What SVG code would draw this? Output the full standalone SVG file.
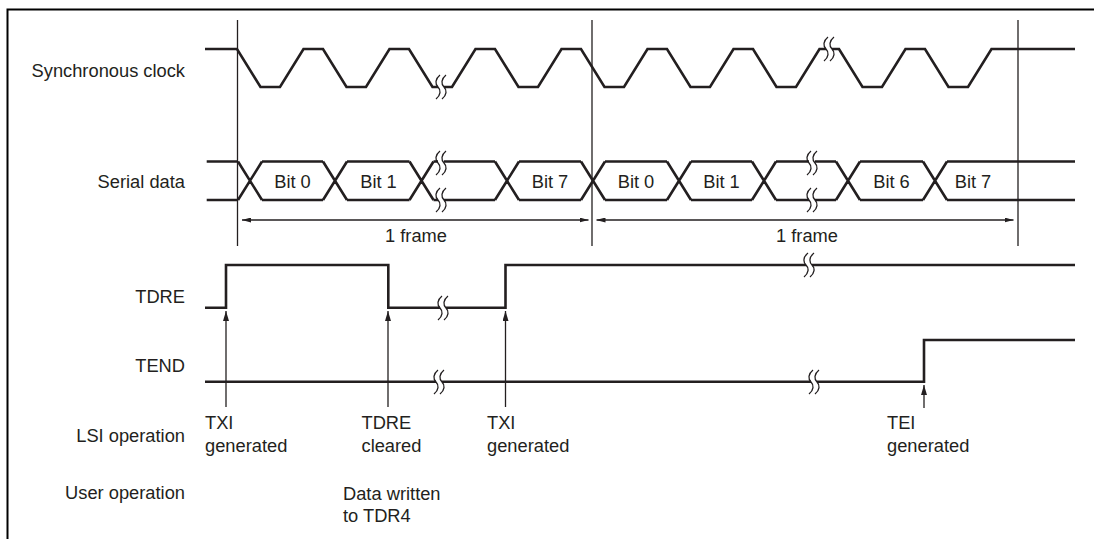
<svg xmlns="http://www.w3.org/2000/svg" width="1094" height="539" viewBox="0 0 1094 539">
<style>
.sig{fill:none;stroke:#231f20;stroke-width:2.6;stroke-linejoin:miter}
.thin{fill:none;stroke:#231f20;stroke-width:1.3}
.lbl{font-family:"Liberation Sans",Arial,sans-serif;font-size:18.3px;fill:#231f20}
.r{text-anchor:end}
.m{text-anchor:middle}
.brk{fill:none;stroke:#231f20;stroke-width:1.3}
</style>
<defs>
<marker id="ah" viewBox="0 0 10 6" refX="10" refY="3" markerWidth="10" markerHeight="6" markerUnits="userSpaceOnUse" orient="auto">
<path d="M0,0 L10,3 L0,6 z" fill="#231f20"/>
</marker>
<marker id="dh" viewBox="0 0 9 5" refX="9" refY="2.5" markerWidth="9" markerHeight="5" markerUnits="userSpaceOnUse" orient="auto-start-reverse">
<path d="M0,0 L9,2.5 L0,5 z" fill="#231f20"/>
</marker>
<g id="brkmark">
<rect x="-3" y="-3" width="6" height="6" fill="#fff"/>
<path class="brk" d="M-1,-12 C-6,-8 -6,-3 -3,0 C0,3 0,8 -5,12"/>
<path class="brk" d="M5,-12 C0,-8 0,-3 3,0 C6,3 6,8 1,12"/>
</g>
</defs>
<rect width="1094" height="539" fill="#fff"/>
<path d="M7.5,539 V9.5 H1094" fill="none" stroke="#000" stroke-width="2"/>

<g id="labels">
<text class="lbl r" x="185" y="77">Synchronous clock</text>
<text class="lbl r" x="185" y="188">Serial data</text>
<text class="lbl r" x="185" y="303">TDRE</text>
<text class="lbl r" x="185" y="372">TEND</text>
<text class="lbl r" x="185" y="442">LSI operation</text>
<text class="lbl r" x="185" y="499">User operation</text>
</g>

<g id="frame-markers">
<line class="thin" x1="237.5" y1="20" x2="237.5" y2="246"/>
<line class="thin" x1="592" y1="20" x2="592" y2="246"/>
<line class="thin" x1="1018" y1="20" x2="1018" y2="246"/>
</g>

<g id="clock">
<polyline class="sig" points="205,49 237,49 260.5,87 280,87 303.5,49 323,49 346.5,87 366,87 389.5,49 409,49 432.5,87 452,87 475.5,49 495,49 518.5,87 538,87 561.5,49 581,49 604.5,87 624,87 647.5,49 667,49 690.5,87 710,87 733.5,49 753,49 776.5,87 796,87 819.5,49 839,49 862.5,87 882,87 905.5,49 925,49 948.5,87 968,87 991.5,49 1075,49"/>
<use href="#brkmark" x="441" y="87"/>
<use href="#brkmark" x="829" y="49"/>
</g>

<g id="serial-data">
<path class="sig" d="M206.7,161.5 H238 M262,161.5 H323 M347,161.5 H409.5 M433.5,161.5 H495 M519,161.5 H581 M605,161.5 H667 M691,161.5 H752 M776,161.5 H836 M860,161.5 H923 M947,161.5 H1075"/>
<path class="sig" d="M206.7,200 H238 M262,200 H323 M347,200 H409.5 M433.5,200 H495 M519,200 H581 M605,200 H667 M691,200 H752 M776,200 H836 M860,200 H923 M947,200 H1075"/>
<path class="sig" d="M238,161.5 L262,200 M238,200 L262,161.5 M323,161.5 L347,200 M323,200 L347,161.5 M409.5,161.5 L433.5,200 M409.5,200 L433.5,161.5 M495,161.5 L519,200 M495,200 L519,161.5 M581,161.5 L605,200 M581,200 L605,161.5 M667,161.5 L691,200 M667,200 L691,161.5 M752,161.5 L776,200 M752,200 L776,161.5 M836,161.5 L860,200 M836,200 L860,161.5 M923,161.5 L947,200 M923,200 L947,161.5"/>
<use href="#brkmark" x="441" y="163"/>
<use href="#brkmark" x="441" y="200"/>
<use href="#brkmark" x="812" y="163"/>
<use href="#brkmark" x="812" y="200"/>
<text class="lbl m" x="292.5" y="188">Bit 0</text>
<text class="lbl m" x="378.5" y="188">Bit 1</text>
<text class="lbl m" x="550" y="188">Bit 7</text>
<text class="lbl m" x="636" y="188">Bit 0</text>
<text class="lbl m" x="721.5" y="188">Bit 1</text>
<text class="lbl m" x="891.5" y="188">Bit 6</text>
<text class="lbl m" x="973" y="188">Bit 7</text>
</g>

<g id="frame-dims">
<line class="thin" x1="242" y1="220" x2="588.5" y2="220" marker-start="url(#dh)" marker-end="url(#dh)"/>
<line class="thin" x1="596.5" y1="220" x2="1013.5" y2="220" marker-start="url(#dh)" marker-end="url(#dh)"/>
<text class="lbl m" x="416" y="242">1 frame</text>
<text class="lbl m" x="807" y="242">1 frame</text>
</g>

<g id="tdre">
<path class="sig" d="M205,307.7 H226 V265 H388.3 V307.7 H505.5 V265 H1075"/>
<use href="#brkmark" x="443" y="308"/>
<use href="#brkmark" x="809" y="265"/>
</g>

<g id="tend">
<path class="sig" d="M205,381.7 H924 V340 H1075"/>
<use href="#brkmark" x="439" y="382"/>
<use href="#brkmark" x="814" y="382"/>
</g>

<g id="connectors">
<line class="thin" x1="226" y1="407" x2="226" y2="311" marker-end="url(#ah)"/>
<line class="thin" x1="388" y1="407" x2="388" y2="311" marker-end="url(#ah)"/>
<line class="thin" x1="505.5" y1="407" x2="505.5" y2="311" marker-end="url(#ah)"/>
<line class="thin" x1="924" y1="408" x2="924" y2="385" marker-end="url(#ah)"/>
</g>

<g id="events">
<text class="lbl" x="205" y="429">TXI</text>
<text class="lbl" x="205" y="451.5">generated</text>
<text class="lbl" x="361.5" y="429">TDRE</text>
<text class="lbl" x="361.5" y="451.5">cleared</text>
<text class="lbl" x="487" y="429">TXI</text>
<text class="lbl" x="487" y="451.5">generated</text>
<text class="lbl" x="887" y="429">TEI</text>
<text class="lbl" x="887" y="451.5">generated</text>
<text class="lbl" x="343" y="500">Data written</text>
<text class="lbl" x="343" y="522">to TDR4</text>
</g>
</svg>
